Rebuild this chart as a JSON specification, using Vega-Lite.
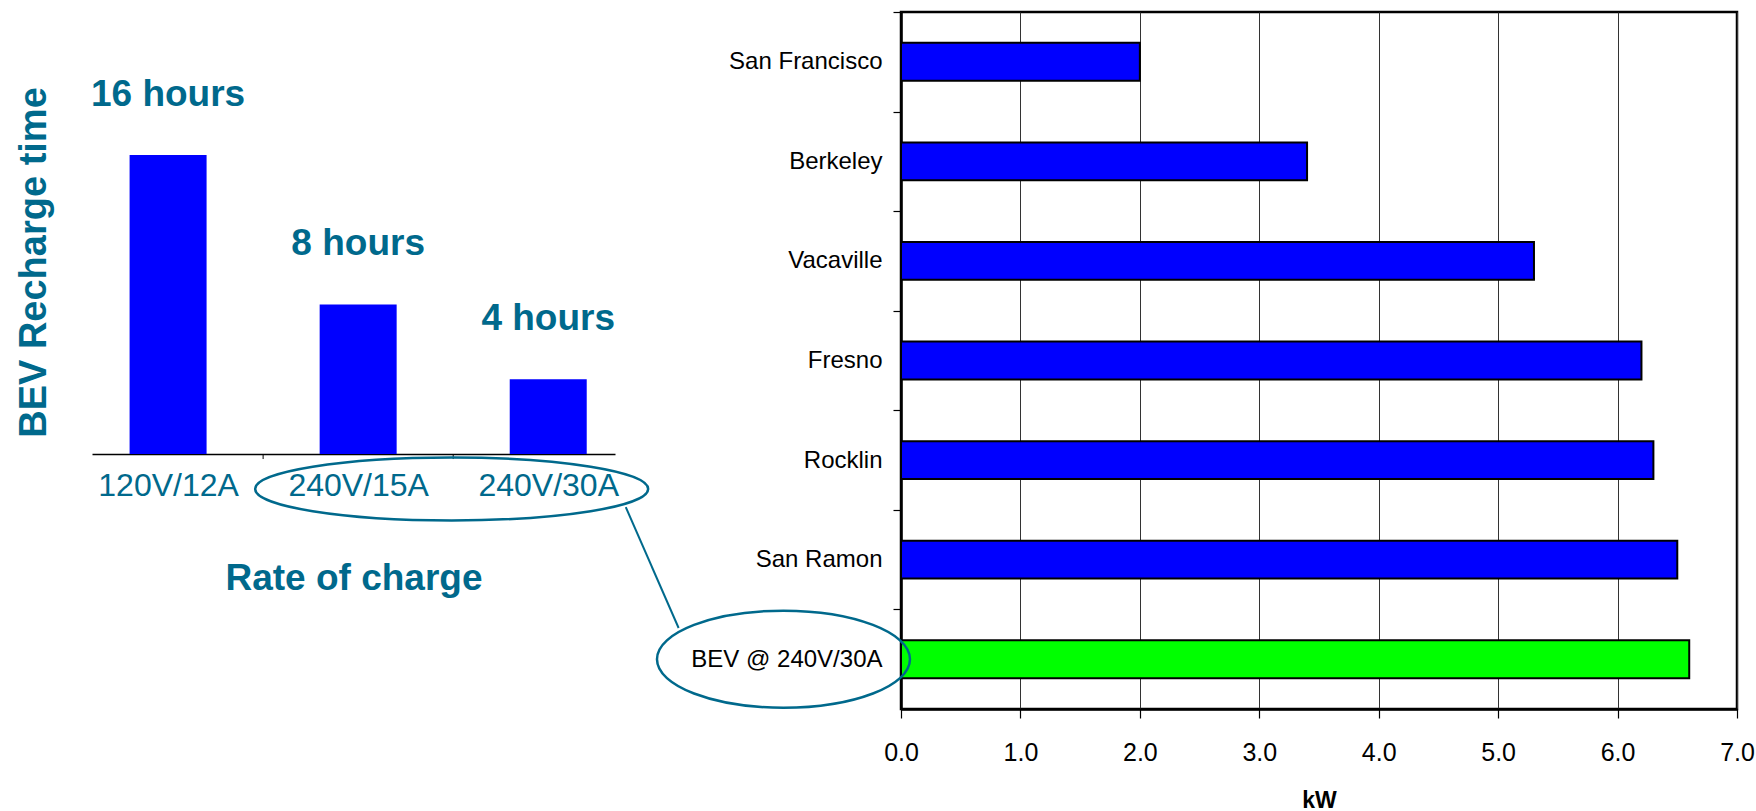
{
  "$schema": "https://vega.github.io/schema/vega-lite/v6.json",
  "background": "white",
  "padding": {"left": 14, "top": 10, "right": 0, "bottom": 0},
  "config": {"view": {"stroke": null}, "font": "Liberation Sans"},
  "bounds": "flush",
  "spacing": 286,
  "datasets": {
    "rates": [
      {"pos": 1, "rate": "120V/12A", "hours": 16, "label": "16 hours"},
      {"pos": 2, "rate": "240V/15A", "hours": 8, "label": "8 hours"},
      {"pos": 3, "rate": "240V/30A", "hours": 4, "label": "4 hours"}
    ],
    "power": [
      {"site": "San Francisco", "kw": 2.0, "kind": "Site"},
      {"site": "Berkeley", "kw": 3.4, "kind": "Site"},
      {"site": "Vacaville", "kw": 5.3, "kind": "Site"},
      {"site": "Fresno", "kw": 6.2, "kind": "Site"},
      {"site": "Rocklin", "kw": 6.3, "kind": "Site"},
      {"site": "San Ramon", "kw": 6.5, "kind": "Site"},
      {"site": "BEV @ 240V/30A", "kw": 6.6, "kind": "BEV"}
    ]
  },
  "hconcat": [
    {
      "width": 523,
      "height": 442,
      "layer": [
        {
          "data": {"name": "rates"},
          "mark": {"type": "bar", "width": 77, "color": "#0000ff"},
          "encoding": {
            "x": {
              "field": "pos", "type": "quantitative",
              "scale": {"domain": [0.626, 3.325], "nice": false, "zero": false},
              "axis": {
                "values": [1, 2, 3],
                "labelExpr": "datum.value == 1 ? '120V/12A' : datum.value == 2 ? '240V/15A' : '240V/30A'",
                "ticks": false, "grid": false,
                "domainColor": "black", "domainWidth": 1.5,
                "labelFont": "Liberation Sans", "labelFontSize": 32, "labelColor": "#00698c",
                "labelBaseline": "alphabetic", "labelPadding": 41, "labelFlush": false, "labelOverlap": false, "labelLimit": 400,
                "title": "Rate of charge", "titleFont": "Liberation Sans", "titleFontWeight": "bold",
                "titleFontSize": 37, "titleColor": "#00698c", "titleBaseline": "alphabetic", "titleY": 135
              }
            },
            "y": {
              "field": "hours", "type": "quantitative",
              "scale": {"domain": [0, 23.65], "nice": false},
              "axis": {
                "domain": false, "ticks": false, "labels": false, "grid": false,
                "title": "BEV Recharge time", "titleFont": "Liberation Sans", "titleFontWeight": "bold",
                "titleFontSize": 38, "titleColor": "#00698c", "titleBaseline": "alphabetic",
                "titleAngle": 270, "titleX": -47, "titleY": 250, "titleLimit": 600
              }
            }
          }
        },
        {
          "data": {"name": "rates"},
          "mark": {"type": "text", "dy": -49, "baseline": "alphabetic", "align": "center", "font": "Liberation Sans", "fontWeight": "bold", "fontSize": 37, "color": "#00698c"},
          "encoding": {
            "x": {"field": "pos", "type": "quantitative"},
            "y": {"field": "hours", "type": "quantitative"},
            "text": {"field": "label"}
          }
        },
        {
          "data": {"values": [{"x": 1.5, "y": 0, "y2": -0.27}, {"x": 2.5, "y": 0, "y2": -0.27}]},
          "mark": {"type": "rule", "color": "black", "strokeWidth": 1},
          "encoding": {
            "x": {"field": "x", "type": "quantitative"},
            "y": {"field": "y", "type": "quantitative"},
            "y2": {"field": "y2"}
          }
        },
        {
          "data": {"values": [{"x": 2.492, "y": -1.87}]},
          "mark": {"type": "point", "shape": "M-1,0A1,0.1603,0,1,0,1,0A1,0.1603,0,1,0,-1,0Z", "size": 154449, "filled": false, "stroke": "#00698c", "strokeWidth": 2.5, "opacity": 1},
          "encoding": {
            "x": {"field": "x", "type": "quantitative"},
            "y": {"field": "y", "type": "quantitative"}
          }
        },
        {
          "data": {"values": [{"x": 3.408, "y": -2.84, "x2": 3.686, "y2": -9.31}]},
          "mark": {"type": "rule", "color": "#00698c", "strokeWidth": 2},
          "encoding": {
            "x": {"field": "x", "type": "quantitative"},
            "x2": {"field": "x2"},
            "y": {"field": "y", "type": "quantitative"},
            "y2": {"field": "y2"}
          }
        }
      ]
    },
    {
      "width": 836,
      "height": 697,
      "view": {"stroke": "black", "strokeWidth": 2.5},
      "layer": [
        {
          "data": {"name": "power"},
          "mark": {"type": "bar", "stroke": "black", "strokeWidth": 2},
          "encoding": {
            "y": {
              "field": "site", "type": "nominal",
              "scale": {"domain": ["San Francisco", "Berkeley", "Vacaville", "Fresno", "Rocklin", "San Ramon", "BEV @ 240V/30A"], "paddingInner": 0.62, "paddingOuter": 0.31},
              "axis": {
                "title": null, "domainColor": "black", "domainWidth": 2.5,
                "tickSize": 8, "tickColor": "black", "tickWidth": 1.2, "grid": false,
                "tickOffset": -49.8, "labelOffset": 49.8,
                "labelFont": "Liberation Sans", "labelFontSize": 24, "labelColor": "black", "labelPadding": 11, "labelLimit": 400
              }
            },
            "x": {
              "field": "kw", "type": "quantitative",
              "scale": {"domain": [0, 7], "nice": false},
              "axis": {
                "values": [0, 1, 2, 3, 4, 5, 6, 7], "format": ".1f", "grid": true, "gridColor": "#333333", "gridWidth": 1,
                "tickSize": 9, "tickColor": "black", "tickWidth": 1.2, "domainColor": "black", "domainWidth": 2.5,
                "labelFont": "Liberation Sans", "labelFontSize": 25, "labelColor": "black",
                "labelBaseline": "alphabetic", "labelPadding": 42, "labelFlush": false, "labelOverlap": false,
                "title": "kW", "titleFont": "Liberation Sans", "titleFontWeight": "bold", "titleFontSize": 23,
                "titleColor": "black", "titleBaseline": "alphabetic", "titleY": 98
              }
            },
            "color": {"field": "kind", "type": "nominal", "scale": {"domain": ["Site", "BEV"], "range": ["#0000ff", "#00ff00"]}, "legend": null}
          }
        },
        {
          "data": {"values": [{"site": "BEV @ 240V/30A", "kw": -0.984}]},
          "mark": {"type": "point", "shape": "M-1,0A1,0.3834,0,1,0,1,0A1,0.3834,0,1,0,-1,0Z", "size": 64009, "filled": false, "stroke": "#00698c", "strokeWidth": 2.5, "opacity": 1},
          "encoding": {
            "y": {"field": "site", "type": "nominal"},
            "x": {"field": "kw", "type": "quantitative"}
          }
        }
      ]
    }
  ]
}
